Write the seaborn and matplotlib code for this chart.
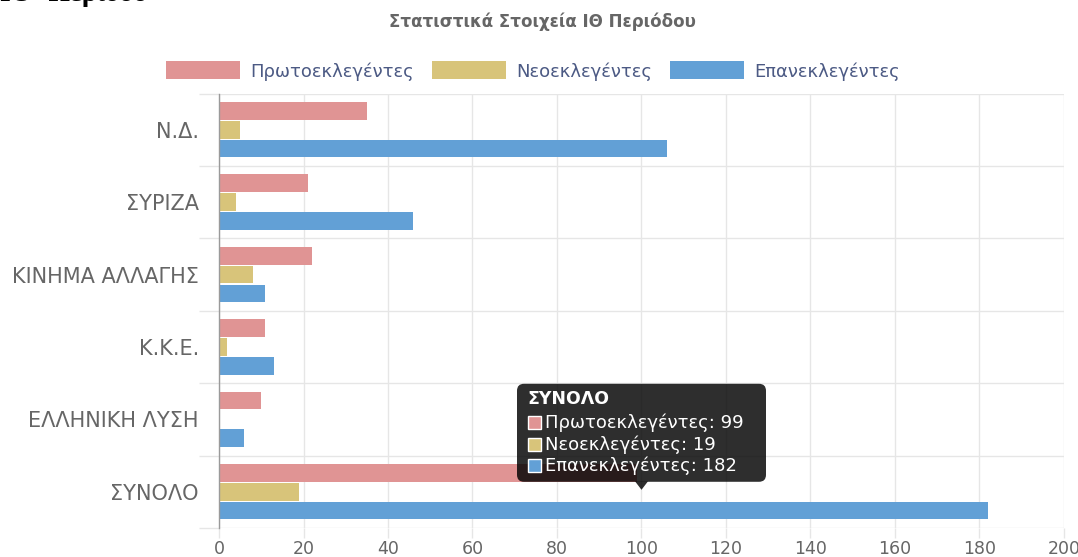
import numpy as np
import pandas as pd
import matplotlib
matplotlib.use("Agg")
import matplotlib.pyplot as plt
import seaborn as sns
from matplotlib.patches import FancyBboxPatch, Polygon, Rectangle
from matplotlib.transforms import IdentityTransform

# ── Data ─────────────────────────────────────────────────────────────
parties = ["Ν.Δ.", "ΣΥΡΙΖΑ", "ΚΙΝΗΜΑ ΑΛΛΑΓΗΣ", "Κ.Κ.Ε.", "ΕΛΛΗΝΙΚΗ ΛΥΣΗ", "ΣΥΝΟΛΟ"]
series = ["Πρωτοεκλεγέντες", "Νεοεκλεγέντες", "Επανεκλεγέντες"]
first_elected = [35, 21, 22, 11, 10, 99]
newly_elected = [5, 4, 8, 2, 0, 19]
re_elected = [106, 46, 11, 13, 6, 182]
x_ticks = [0, 20, 40, 60, 80, 100, 120, 140, 160, 180, 200]

title = "Στατιστικά Στοιχεία ΙΘ Περιόδου"
page_heading = "ΙΘ΄ Περίοδο"
tooltip_party = "ΣΥΝΟΛΟ"

colors = ["#e09494", "#d8c47a", "#62a0d6"]

df = pd.DataFrame({
    "party": parties * 3,
    "series": [series[0]] * 6 + [series[1]] * 6 + [series[2]] * 6,
    "value": first_elected + newly_elected + re_elected,
})

# ── Style ────────────────────────────────────────────────────────────
sns.set_theme(style="white")
plt.rcParams["font.family"] = ["DejaVu Sans"]

W, H = 1078, 557
fig = plt.figure(figsize=(W / 100, H / 100), dpi=100)
fig.patch.set_facecolor("white")
ax = fig.add_axes([219 / W, 29 / H, 845 / W, 434.5 / H])

sns.barplot(
    data=df, x="value", y="party", hue="series", orient="h",
    hue_order=series, order=parties, palette=colors, saturation=1,
    width=0.78, gap=0.06, linewidth=0, legend=False, ax=ax,
)

ax.set_xlim(0, 200)
ax.set_ylim(5.5, -0.5)
ax.set_xticks(x_ticks)
ax.set_xlabel("")
ax.set_ylabel("")
ax.set_axisbelow(True)

# gridlines between categories (chart.js style offset grid)
ax.set_yticks(np.arange(-0.5, len(parties), 1), minor=True)
ax.grid(axis="x", which="major", color="#e6e6e6", lw=1)
ax.grid(axis="y", which="minor", color="#e6e6e6", lw=1)
ax.grid(axis="y", which="major", visible=False)

ax.tick_params(axis="y", which="major", length=0, pad=14.5,
               labelsize=15, labelcolor="#666666")
ax.tick_params(axis="y", which="minor", length=14.4, width=1,
               color="#e6e6e6", left=True)
ax.tick_params(axis="x", which="major", length=7.5, width=1,
               color="#e6e6e6", pad=1, labelsize=12.5, labelcolor="#666666",
               bottom=True)

for name, sp in ax.spines.items():
    sp.set_visible(name == "left")
ax.spines["left"].set_color("#9a9a9a")
ax.spines["left"].set_linewidth(1)

# ── Title, heading, legend ──────────────────────────────────────────
fig.text(542 / W, 1 - 22 / H, title, ha="center", va="center",
         fontsize=12, fontweight="bold", color="#666666")
fig.text(0.0, 1 - 1 / H, page_heading, ha="left", va="baseline",
         fontsize=20, fontweight="bold", color="black",
         family=["Liberation Serif", "DejaVu Serif"])

handles = [Rectangle((0, 0), 1, 1, facecolor=c, edgecolor="none") for c in colors]
leg = fig.legend(
    handles, series, loc="center", bbox_to_anchor=(533 / W, 1 - 71 / H),
    ncol=3, frameon=False, fontsize=13, handlelength=4.1, handleheight=1.15,
    handletextpad=0.55, columnspacing=1.0, borderaxespad=0,
)
for t in leg.get_texts():
    t.set_color("#4c5a84")

# ── Tooltip (chart.js hover on ΣΥΝΟΛΟ, anchored at mean of its bars) ──
row = parties.index(tooltip_party)
vals = [first_elected[row], newly_elected[row], re_elected[row]]
tip_x, tip_y = ax.transData.transform((np.mean(vals), row))
tip_y += 2
bw, bh, caret = 249, 98, 8
bx0 = tip_x - bw / 2
by0 = tip_y + caret
ident = IdentityTransform()

fig.add_artist(FancyBboxPatch(
    (bx0, by0), bw, bh, boxstyle="round,pad=0,rounding_size=7",
    facecolor=(0, 0, 0, 0.82), edgecolor="none", transform=ident, zorder=10))
fig.add_artist(Polygon(
    [[tip_x - 6.5, by0 + 0.5], [tip_x + 6.5, by0 + 0.5], [tip_x, tip_y]],
    closed=True, facecolor=(0, 0, 0, 0.82), edgecolor="none",
    transform=ident, zorder=10))

top = by0 + bh
fig.text((bx0 + 10) / W, (top - 15) / H, tooltip_party, ha="left", va="center",
         fontsize=12.5, fontweight="bold", color="white", zorder=11)
for i, (name, v, c) in enumerate(zip(series, vals, colors)):
    cy = top - (39 + 21.5 * i)
    fig.add_artist(Rectangle((bx0 + 11, cy - 6.5), 13, 13, facecolor=c,
                             edgecolor="white", lw=1, transform=ident, zorder=11))
    fig.text((bx0 + 28) / W, cy / H, f"{name}: {v}", ha="left", va="center",
             fontsize=13, color="white", zorder=11)

fig.savefig("out.png", dpi=100)
